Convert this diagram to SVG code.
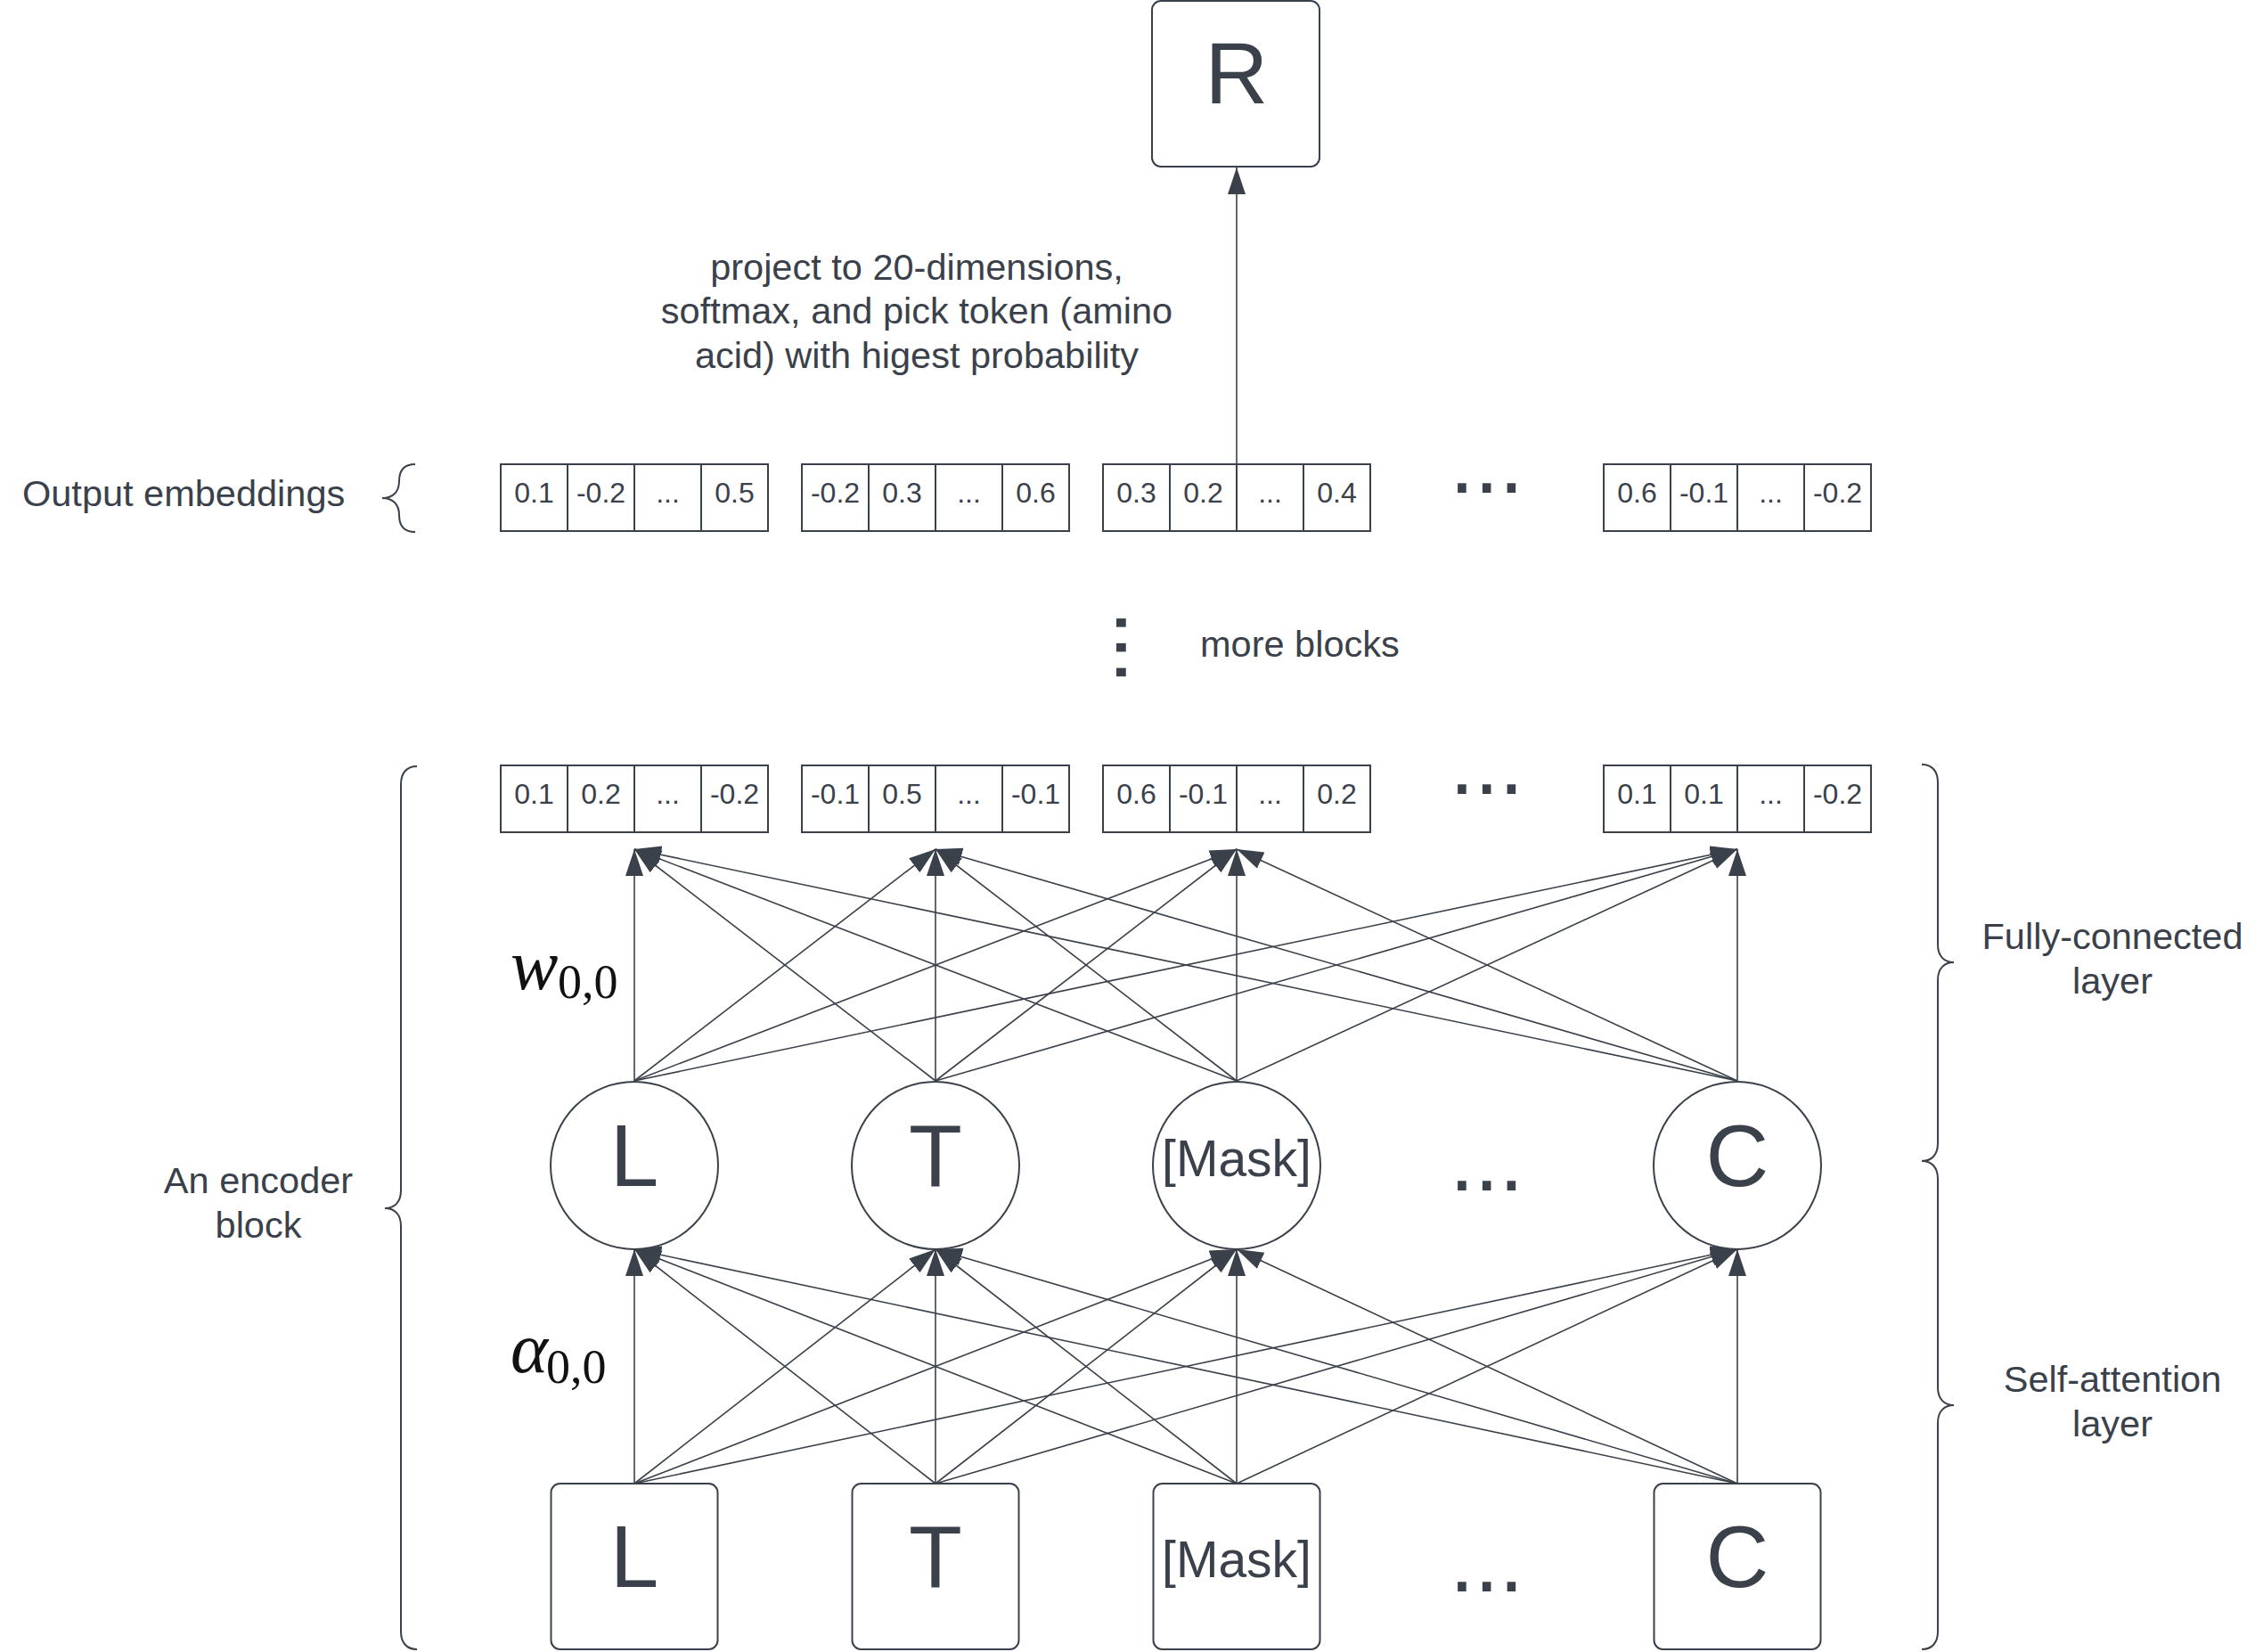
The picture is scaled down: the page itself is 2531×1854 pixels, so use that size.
<svg xmlns="http://www.w3.org/2000/svg" width="2531" height="1854" viewBox="0 0 2531 1854">
<style>
.t{font-family:"Liberation Sans",Arial,sans-serif;fill:#3a414a;}
.lbl{font-size:41.5px;}
.mid{text-anchor:middle;}
.cell{font-size:32px;text-anchor:middle;}
.big{font-size:98px;text-anchor:middle;}
.mask{font-size:57px;text-anchor:middle;}
.dots{font-size:100px;}
.shape{fill:#ffffff;stroke:#3a414a;stroke-width:2;}
.grid{fill:none;stroke:#3a414a;stroke-width:2;}
.brace{fill:none;stroke:#3a414a;stroke-width:2;}
.con line{stroke:#3a414a;stroke-width:1.6;marker-end:url(#ah);}
.m{font-family:"Liberation Serif","Times New Roman",serif;fill:#111111;}
</style>
<defs>
<marker id="ah" markerUnits="userSpaceOnUse" markerWidth="32" markerHeight="22" refX="30" refY="10" orient="auto">
<path d="M0,0 L30,10 L0,20 z" fill="#3a414a"/>
</marker>
</defs>
<rect width="2531" height="1854" fill="#ffffff"/>

<!-- R output node -->
<g id="node-R">
<rect class="shape" x="1293" y="1" width="188" height="186" rx="10"/>
<text class="t big" x="1388" y="116">R</text>
</g>

<!-- caption -->
<g id="caption">
<text class="t lbl mid" x="1029" y="314">project to 20-dimensions,</text>
<text class="t lbl mid" x="1029" y="363">softmax, and pick token (amino</text>
<text class="t lbl mid" x="1029" y="413">acid) with higest probability</text>
</g>

<!-- Output embeddings label + brace -->
<g id="label-output">
<text class="t lbl" x="25" y="568">Output embeddings</text>
<path class="brace" d="M466,521 C452,521 448,529 448,540 C448,552 441,559 429,559 C441,559 448,566 448,578 C448,589 452,597 466,597"/>
</g>

<!-- Output embeddings row -->
<g id="out-emb-1">
<rect class="grid" x="562" y="521" width="300" height="75"/>
<path class="grid" d="M637,521V596M712,521V596M787,521V596"/>
<text class="t cell" x="599.5" y="564">0.1</text><text class="t cell" x="674.5" y="564">-0.2</text><text class="t cell" x="749.5" y="564">...</text><text class="t cell" x="824.5" y="564">0.5</text>
</g>
<g id="out-emb-2">
<rect class="grid" x="900" y="521" width="300" height="75"/>
<path class="grid" d="M975,521V596M1050,521V596M1125,521V596"/>
<text class="t cell" x="937.5" y="564">-0.2</text><text class="t cell" x="1012.5" y="564">0.3</text><text class="t cell" x="1087.5" y="564">...</text><text class="t cell" x="1162.5" y="564">0.6</text>
</g>
<g id="out-emb-3">
<rect class="grid" x="1238" y="521" width="300" height="75"/>
<path class="grid" d="M1313,521V596M1388,521V596M1463,521V596"/>
<text class="t cell" x="1275.5" y="564">0.3</text><text class="t cell" x="1350.5" y="564">0.2</text><text class="t cell" x="1425.5" y="564">...</text><text class="t cell" x="1500.5" y="564">0.4</text>
</g>
<g id="out-emb-4">
<rect class="grid" x="1800" y="521" width="300" height="75"/>
<path class="grid" d="M1875,521V596M1950,521V596M2025,521V596"/>
<text class="t cell" x="1837.5" y="564">0.6</text><text class="t cell" x="1912.5" y="564">-0.1</text><text class="t cell" x="1987.5" y="564">...</text><text class="t cell" x="2062.5" y="564">-0.2</text>
</g>
<text class="t dots" x="1627" y="553">...</text>

<!-- more blocks -->
<g id="more-blocks">
<text class="t dots" transform="translate(1253,685) rotate(90)">...</text>
<text class="t lbl" x="1347" y="737">more blocks</text>
</g>

<!-- Encoder output row -->
<g id="enc-emb-1">
<rect class="grid" x="562" y="859" width="300" height="75"/>
<path class="grid" d="M637,859V934M712,859V934M787,859V934"/>
<text class="t cell" x="599.5" y="902">0.1</text><text class="t cell" x="674.5" y="902">0.2</text><text class="t cell" x="749.5" y="902">...</text><text class="t cell" x="824.5" y="902">-0.2</text>
</g>
<g id="enc-emb-2">
<rect class="grid" x="900" y="859" width="300" height="75"/>
<path class="grid" d="M975,859V934M1050,859V934M1125,859V934"/>
<text class="t cell" x="937.5" y="902">-0.1</text><text class="t cell" x="1012.5" y="902">0.5</text><text class="t cell" x="1087.5" y="902">...</text><text class="t cell" x="1162.5" y="902">-0.1</text>
</g>
<g id="enc-emb-3">
<rect class="grid" x="1238" y="859" width="300" height="75"/>
<path class="grid" d="M1313,859V934M1388,859V934M1463,859V934"/>
<text class="t cell" x="1275.5" y="902">0.6</text><text class="t cell" x="1350.5" y="902">-0.1</text><text class="t cell" x="1425.5" y="902">...</text><text class="t cell" x="1500.5" y="902">0.2</text>
</g>
<g id="enc-emb-4">
<rect class="grid" x="1800" y="859" width="300" height="75"/>
<path class="grid" d="M1875,859V934M1950,859V934M2025,859V934"/>
<text class="t cell" x="1837.5" y="902">0.1</text><text class="t cell" x="1912.5" y="902">0.1</text><text class="t cell" x="1987.5" y="902">...</text><text class="t cell" x="2062.5" y="902">-0.2</text>
</g>
<text class="t dots" x="1627" y="891">...</text>

<!-- Hidden nodes (circles) -->
<g id="hid-L"><circle class="shape" cx="712" cy="1308" r="94"/><text class="t big" x="712" y="1331">L</text></g>
<g id="hid-T"><circle class="shape" cx="1050" cy="1308" r="94"/><text class="t big" x="1050" y="1331">T</text></g>
<g id="hid-Mask"><circle class="shape" cx="1388" cy="1308" r="94"/><text class="t mask" x="1388" y="1320">[Mask]</text></g>
<g id="hid-C"><circle class="shape" cx="1950" cy="1308" r="94"/><text class="t big" x="1950" y="1331">C</text></g>
<text class="t dots" x="1627" y="1336">...</text>

<!-- Input nodes -->
<g id="in-L"><rect class="shape" x="618.5" y="1665" width="187" height="186" rx="10"/><text class="t big" x="712" y="1781">L</text></g>
<g id="in-T"><rect class="shape" x="956.5" y="1665" width="187" height="186" rx="10"/><text class="t big" x="1050" y="1781">T</text></g>
<g id="in-Mask"><rect class="shape" x="1294.5" y="1665" width="187" height="186" rx="10"/><text class="t mask" x="1388" y="1770">[Mask]</text></g>
<g id="in-C"><rect class="shape" x="1856.5" y="1665" width="187" height="186" rx="10"/><text class="t big" x="1950" y="1781">C</text></g>
<text class="t dots" x="1627" y="1786">...</text>

<!-- Math labels -->
<g id="label-w">
<text class="m" x="573" y="1110" font-size="80" font-style="italic">w</text>
<text class="m" x="626" y="1120" font-size="54">0,0</text>
</g>
<g id="label-alpha">
<text class="m" x="573" y="1540" font-size="80" font-style="italic">α</text>
<text class="m" x="613" y="1552" font-size="54">0,0</text>
</g>

<!-- Left big brace + label -->
<g id="label-encoder">
<path class="brace" d="M468,860 C456,860 450,868 450,880 L450,1336 C450,1349 443,1356 432,1356 C443,1356 450,1363 450,1376 L450,1831 C450,1843 456,1851 468,1851"/>
<text class="t lbl mid" x="290" y="1339">An encoder</text>
<text class="t lbl mid" x="290" y="1389">block</text>
</g>

<!-- Right braces + labels -->
<g id="label-fc">
<path class="brace" d="M2157,858 C2169,858 2175,866 2175,878 L2175,1060 C2175,1073 2182,1080 2193,1080 C2182,1080 2175,1087 2175,1100 L2175,1283 C2175,1295 2169,1303 2157,1303"/>
<text class="t lbl mid" x="2371" y="1065">Fully-connected</text>
<text class="t lbl mid" x="2371" y="1115">layer</text>
</g>
<g id="label-sa">
<path class="brace" d="M2157,1303 C2169,1303 2175,1311 2175,1323 L2175,1557 C2175,1570 2182,1577 2193,1577 C2182,1577 2175,1584 2175,1597 L2175,1831 C2175,1843 2169,1851 2157,1851"/>
<text class="t lbl mid" x="2371" y="1562">Self-attention</text>
<text class="t lbl mid" x="2371" y="1612">layer</text>
</g>

<!-- Connectors -->
<g id="connectors" class="con">
<line x1="1388" y1="521" x2="1388" y2="188"/>
<line x1="712" y1="1213" x2="712" y2="953"/>
<line x1="712" y1="1213" x2="1050" y2="953"/>
<line x1="712" y1="1213" x2="1388" y2="953"/>
<line x1="712" y1="1213" x2="1950" y2="953"/>
<line x1="1050" y1="1213" x2="712" y2="953"/>
<line x1="1050" y1="1213" x2="1050" y2="953"/>
<line x1="1050" y1="1213" x2="1388" y2="953"/>
<line x1="1050" y1="1213" x2="1950" y2="953"/>
<line x1="1388" y1="1213" x2="712" y2="953"/>
<line x1="1388" y1="1213" x2="1050" y2="953"/>
<line x1="1388" y1="1213" x2="1388" y2="953"/>
<line x1="1388" y1="1213" x2="1950" y2="953"/>
<line x1="1950" y1="1213" x2="712" y2="953"/>
<line x1="1950" y1="1213" x2="1050" y2="953"/>
<line x1="1950" y1="1213" x2="1388" y2="953"/>
<line x1="1950" y1="1213" x2="1950" y2="953"/>
<line x1="712" y1="1665" x2="712" y2="1402"/>
<line x1="712" y1="1665" x2="1050" y2="1402"/>
<line x1="712" y1="1665" x2="1388" y2="1402"/>
<line x1="712" y1="1665" x2="1950" y2="1402"/>
<line x1="1050" y1="1665" x2="712" y2="1402"/>
<line x1="1050" y1="1665" x2="1050" y2="1402"/>
<line x1="1050" y1="1665" x2="1388" y2="1402"/>
<line x1="1050" y1="1665" x2="1950" y2="1402"/>
<line x1="1388" y1="1665" x2="712" y2="1402"/>
<line x1="1388" y1="1665" x2="1050" y2="1402"/>
<line x1="1388" y1="1665" x2="1388" y2="1402"/>
<line x1="1388" y1="1665" x2="1950" y2="1402"/>
<line x1="1950" y1="1665" x2="712" y2="1402"/>
<line x1="1950" y1="1665" x2="1050" y2="1402"/>
<line x1="1950" y1="1665" x2="1388" y2="1402"/>
<line x1="1950" y1="1665" x2="1950" y2="1402"/>
</g>
</svg>
